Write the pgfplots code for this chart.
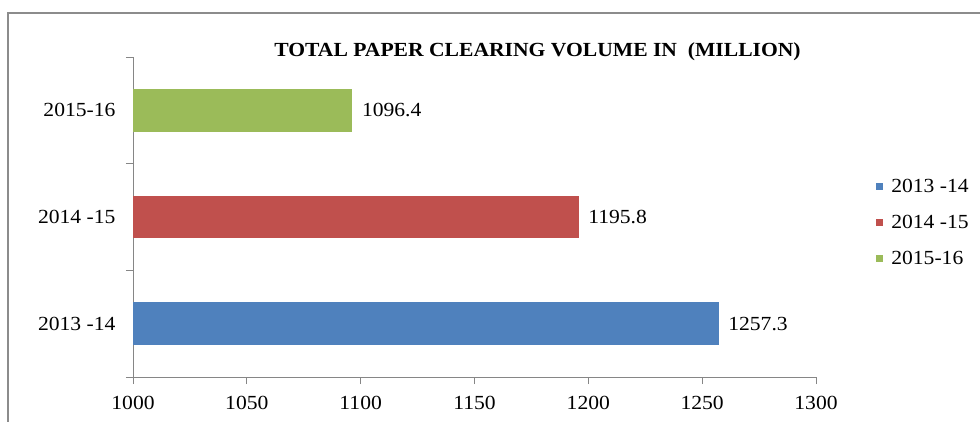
\documentclass[border=0pt]{standalone}
\usepackage{fontspec}
\setmainfont{Liberation Serif}[FakeStretch=1.08]
\usepackage{pgfplots}
\pgfplotsset{compat=1.18}

\definecolor{barblue}{HTML}{4F81BD}
\definecolor{barred}{HTML}{C0504D}
\definecolor{bargreen}{HTML}{9BBB59}
\definecolor{axisgray}{HTML}{868686}
\definecolor{framegray}{HTML}{8C8C8C}

\newcommand{\lblfont}{\fontsize{20}{24}\selectfont}

\begin{document}
\begin{tikzpicture}[x=1pt,y=1pt]
% outer chart frame
\draw[framegray, line width=1.2pt] (8,-2) -- (8,408) -- (982,408);

\begin{axis}[
  at={(133pt,44pt)}, anchor=south west,
  scale only axis, width=683pt, height=320pt,
  xbar, bar width=42.7pt, bar shift=0pt,
  xmin=1000, xmax=1300, ymin=-0.5, ymax=2.5,
  axis lines*=left,
  axis line style={axisgray, line width=0.9pt},
  every tick/.style={axisgray, line width=0.9pt},
  tick align=outside, major tick length=7pt,
  xtick={1000,1050,...,1300},
  ytick={-0.5,0.5,1.5,2.5},
  yticklabels={2013 -14,2014 -15,2015-16,{}},
  yticklabel style={yshift=53.33pt, xshift=-7pt, font=\lblfont},
  xticklabel style={font=\lblfont, yshift=-9pt},
  /pgf/number format/1000 sep={},
  /pgf/number format/assume math mode=true,
  point meta=explicit symbolic,
  nodes near coords=\pgfplotspointmeta,
  every node near coord/.append style={font=\lblfont, black, anchor=west, xshift=6pt},
  legend image code/.code={\fill[#1,draw=none] (0pt,-3.5pt) rectangle (7pt,3.5pt);},
  legend style={draw=none, fill=none, at={(axis description cs:1.088,0.62)},
    anchor=north west, font=\lblfont, row sep=21.5pt, inner sep=0pt,
    nodes={inner xsep=4pt, inner ysep=0pt},
    /tikz/every odd column/.append style={column sep=4pt}},
  legend cell align=left,
  clip=false,
]
\addplot[fill=barblue, draw=none] coordinates {(1257.3,0) [1257.3]};
\addplot[fill=barred, draw=none] coordinates {(1195.8,1) [1195.8]};
\addplot[fill=bargreen, draw=none] coordinates {(1096.4,2) [1096.4]};
\legend{2013 -14,2014 -15,2015-16}
\end{axis}

\node[font=\bfseries\fontsize{20}{24}\selectfont, inner sep=0pt] at (537.5,369) {TOTAL PAPER CLEARING VOLUME IN\ \ (MILLION)};

\pgfresetboundingbox
\useasboundingbox (0,0) rectangle (980,421);
\end{tikzpicture}
\end{document}
